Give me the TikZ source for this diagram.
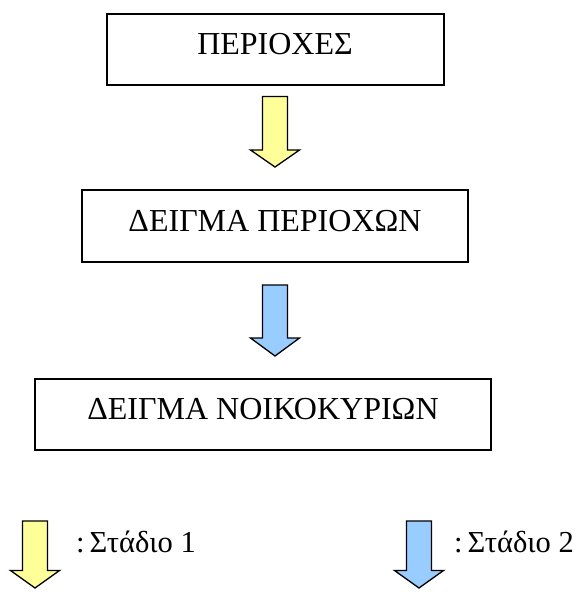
\documentclass[tikz,border=0pt]{standalone}
\usepackage{fontspec}
\setmainfont{Liberation Serif}
\definecolor{arrYellow}{HTML}{FFFF99}
\definecolor{arrBlue}{HTML}{99CCFF}
\tikzset{
  boxnode/.style={draw=black, line width=1.6pt, rectangle, inner sep=0pt},
  lbl/.style={anchor=base, inner sep=0pt, font=\fontsize{32}{36}\selectfont},
  leglbl/.style={anchor=base west, inner sep=0pt, font=\fontsize{30.5}{34}\selectfont},
  blockarrow/.style={draw=black, line width=1.3pt, line join=miter},
}
\newcommand{\blockarr}[4]{% x centre, top y, head y, tip y ; colour via scope
  \path[blockarrow] (#1-12.5,-#2) -- (#1+12.5,-#2) -- (#1+12.5,-#3) -- (#1+24.5,-#3)
    -- (#1,-#4) -- (#1-24.5,-#3) -- (#1-12.5,-#3) -- cycle;}
\begin{document}
\begin{tikzpicture}[x=1pt,y=1pt]
\useasboundingbox (0,0) rectangle (582,-592);
\clip (0,0) rectangle (582,-592);
% boxes
\node[boxnode, minimum width=337pt, minimum height=71pt] (b1) at (275.5,-49.5) {};
\node[boxnode, minimum width=386pt, minimum height=72pt] (b2) at (275,-226) {};
\node[boxnode, minimum width=456pt, minimum height=71pt] (b3) at (263,-414.5) {};
\node[lbl] (t1) at (275,-54) {ΠΕΡΙΟΧΕΣ};
\node[lbl] (t2) at (275,-231) {ΔΕΙΓΜΑ ΠΕΡΙΟΧΩΝ};
\node[lbl] (t3) at (263,-419.5) {ΔΕΙΓΜΑ ΝΟΙΚΟΚΥΡΙΩΝ};
% arrows between boxes
\begin{scope}[blockarrow/.append style={fill=arrYellow}]
  \blockarr{275}{96.5}{150}{167}
\end{scope}
\begin{scope}[blockarrow/.append style={fill=arrBlue}]
  \blockarr{275}{285}{338}{356}
\end{scope}
% legend
\begin{scope}[blockarrow/.append style={fill=arrYellow}]
  \blockarr{35}{521}{570.5}{588}
\end{scope}
\begin{scope}[blockarrow/.append style={fill=arrBlue}]
  \blockarr{419}{521}{570.5}{588}
\end{scope}
\node[leglbl] (l1) at (76,-552) {:\kern5pt Στάδιο 1};
\node[leglbl] (l2) at (454,-552) {:\kern5pt Στάδιο 2};
\end{tikzpicture}
\end{document}
